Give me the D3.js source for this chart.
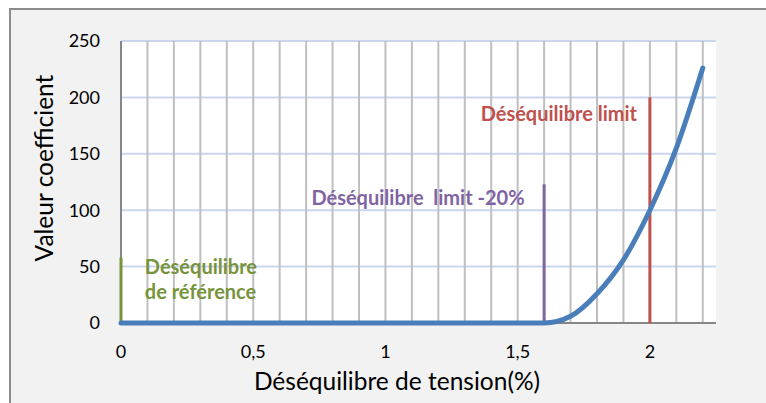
<!DOCTYPE html>
<html>
<head>
<meta charset="utf-8">
<script src="https://cdn.jsdelivr.net/npm/d3@7"></script>
<style>
    body { margin: 0; background: #ffffff; }
    svg { display: block; font-family: Lato, "Open Sans", sans-serif; }
</style>
</head>
<body>
<svg id="svg"></svg>
<script>
// values
let tensionValues = [0, 0.2, 0.4, 0.6, 0.8, 1.0, 1.2, 1.4, 1.6, 1.7, 1.8, 1.9, 2.0, 2.1, 2.2];
let coeffValues   = [0, 0, 0, 0, 0, 0, 0, 0, 0, 6, 26, 56, 100, 155, 226];

let xTickValues = [0, 0.5, 1, 1.5, 2];
let xTickLabels = ["0", "0,5", "1", "1,5", "2"];
let yTickValues = [0, 50, 100, 150, 200, 250];

let markerNames   = ["ref", "limit20", "limit"];
let markerX       = [0, 1.6, 2.0];
let markerHeights = [58, 123, 200];
let markerColors  = ["#77933c", "#8064a2", "#c0504d"];

let annotationLines = [["Déséquilibre", "de référence"], ["Déséquilibre  limit -20%"], ["Déséquilibre limit"]];
let annotationX     = [0.09, 0.72, 1.36];
let annotationY     = [43, 105, 179];

const width = 766;
const height = 403;
const margin = { top: 41, right: 50, bottom: 80, left: 121 };
const chartWidth = width - margin.left - margin.right;
const chartHeight = height - margin.top - margin.bottom;

let svg = d3.select("#svg")
    .attr("width", width)
    .attr("height", height);

// chart area background, only top/left border visible
svg.append("rect")
    .attr("x", 10).attr("y", 9)
    .attr("width", width).attr("height", height)
    .attr("fill", "#f2f2f2")
    .attr("stroke", "#8c8c8c")
    .attr("stroke-width", 2);

let chart = svg.append("g")
    .attr("transform", "translate(" + margin.left + "," + margin.top + ")");

let xScale = d3.scaleLinear().domain([0, 2.25]).range([0, chartWidth]);
let yScale = d3.scaleLinear().domain([0, 250]).range([chartHeight, 0]);

chart.append("rect")
    .attr("width", chartWidth)
    .attr("height", chartHeight)
    .attr("fill", "#ffffff");

// horizontal gridlines
chart.append("g")
    .selectAll("line")
    .data(yTickValues.slice(1))
    .enter()
    .append("line")
        .attr("x1", 0)
        .attr("x2", chartWidth)
        .attr("y1", d => yScale(d))
        .attr("y2", d => yScale(d))
        .attr("stroke", "#c9d6ee")
        .attr("stroke-width", 2);

// vertical gridlines every 0.1
chart.append("g")
    .selectAll("line")
    .data(xScale.ticks(23).filter(d => d > 0))
    .enter()
    .append("line")
        .attr("x1", d => xScale(d))
        .attr("x2", d => xScale(d))
        .attr("y1", 0)
        .attr("y2", chartHeight)
        .attr("stroke", "#bfbfbf")
        .attr("stroke-width", 2);

// axes lines
chart.append("line")
    .attr("x1", 0).attr("x2", 0)
    .attr("y1", 0).attr("y2", chartHeight)
    .attr("stroke", "#868686").attr("stroke-width", 2);
chart.append("line")
    .attr("x1", 0).attr("x2", chartWidth)
    .attr("y1", chartHeight).attr("y2", chartHeight)
    .attr("stroke", "#868686").attr("stroke-width", 2);

// tick labels
chart.append("g")
    .selectAll("text")
    .data(yTickValues)
    .enter()
    .append("text")
        .attr("x", -21)
        .attr("y", d => yScale(d))
        .attr("dy", "0.35em")
        .attr("text-anchor", "end")
        .style("font-size", "18px")
        .attr("fill", "#000")
        .text(d => d);

chart.append("g")
    .selectAll("text")
    .data(xTickValues)
    .enter()
    .append("text")
        .attr("x", d => xScale(d))
        .attr("y", chartHeight + 35)
        .attr("text-anchor", "middle")
        .style("font-size", "18px")
        .attr("fill", "#000")
        .text((d, i) => xTickLabels[i]);

// reference vertical markers
chart.append("g")
    .selectAll("line")
    .data(markerNames)
    .enter()
    .append("line")
        .attr("x1", (d, i) => xScale(markerX[i]))
        .attr("x2", (d, i) => xScale(markerX[i]))
        .attr("y1", chartHeight)
        .attr("y2", (d, i) => yScale(markerHeights[i]))
        .attr("stroke", (d, i) => markerColors[i])
        .attr("stroke-width", 3);

// the curve
let line = d3.line()
    .x((d, i) => xScale(tensionValues[i]))
    .y(d => yScale(d))
    .curve(d3.curveMonotoneX);

chart.append("path")
    .datum(coeffValues)
    .attr("d", line)
    .attr("fill", "none")
    .attr("stroke", "#4a7ebb")
    .attr("stroke-width", 5)
    .attr("stroke-linecap", "round")
    .attr("stroke-linejoin", "round");

// annotations
markerNames.forEach((name, i) => {
    let t = chart.append("text")
        .attr("x", xScale(annotationX[i]))
        .attr("y", yScale(annotationY[i]))
        .attr("fill", markerColors[i])
        .style("font-size", "20px")
        .style("font-weight", "bold")
        .style("white-space", "pre");
    annotationLines[i].forEach((s, j) => {
        t.append("tspan")
            .attr("x", xScale(annotationX[i]))
            .attr("dy", j === 0 ? 0 : 25)
            .text(s);
    });
});

// axis titles
svg.append("text")
    .attr("x", 397)
    .attr("y", 390)
    .attr("text-anchor", "middle")
    .style("font-size", "24.5px")
    .attr("fill", "#000")
    .text("Déséquilibre de tension(%)");

svg.append("text")
    .attr("transform", "translate(53,168) rotate(-90)")
    .attr("text-anchor", "middle")
    .style("font-size", "24.5px")
    .attr("fill", "#000")
    .text("Valeur coefficient");
</script>
</body>
</html>
